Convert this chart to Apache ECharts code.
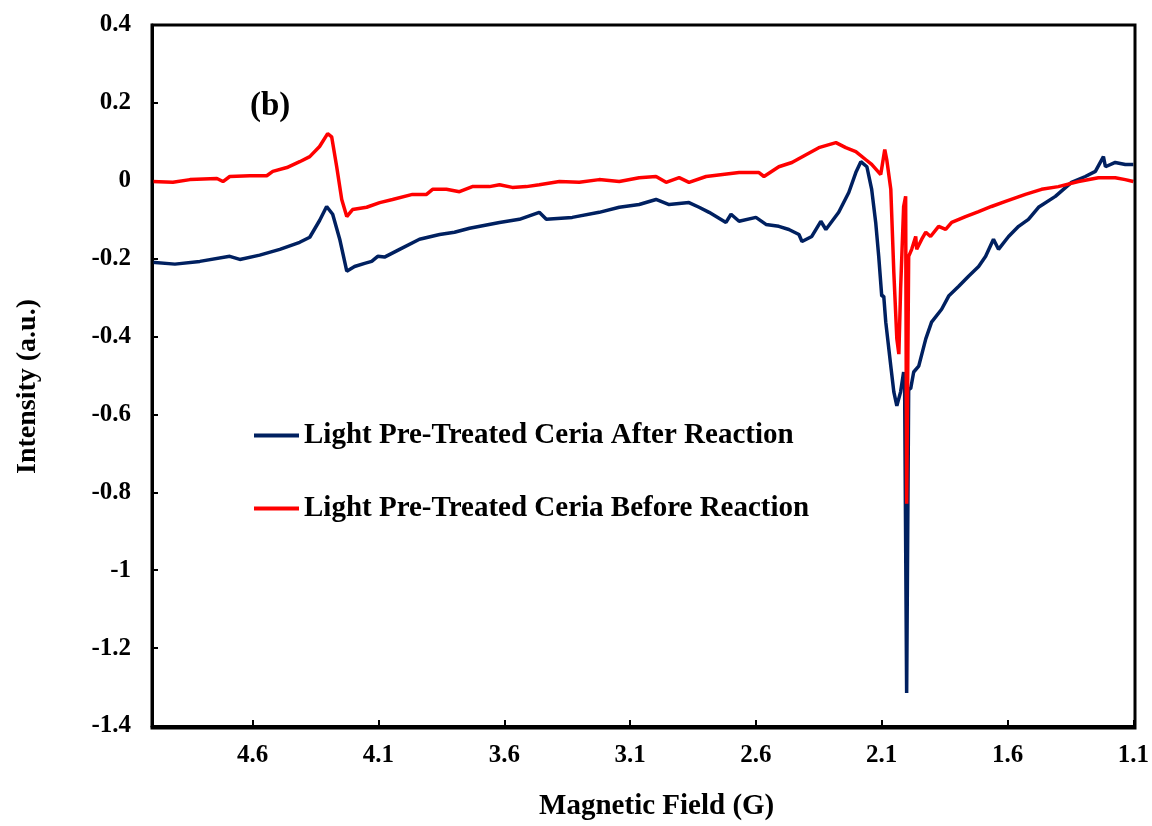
<!DOCTYPE html>
<html>
<head>
<meta charset="utf-8">
<script src="https://cdn.jsdelivr.net/npm/echarts@6/dist/echarts.min.js"></script>
<style>
html,body{margin:0;padding:0;background:#fff;}
#chart{width:1152px;height:826px;}
</style>
</head>
<body>
<div id="chart"></div>
<script>
// Series names
const seriesNames = ['Light Pre-Treated Ceria After Reaction', 'Light Pre-Treated Ceria Before Reaction'];

// After reaction (navy)
const gAfter = [5.000,4.909,4.810,4.691,4.651,4.572,4.492,4.413,4.373,4.334,4.306,4.282,4.254,4.226,4.195,4.155,4.127,4.103,4.076,4.016,3.937,3.857,3.798,3.738,3.619,3.540,3.461,3.433,3.330,3.223,3.143,3.064,2.997,2.945,2.866,2.826,2.786,2.719,2.699,2.667,2.600,2.560,2.509,2.469,2.429,2.417,2.378,2.342,2.322,2.271,2.231,2.203,2.183,2.159,2.140,2.124,2.112,2.100,2.092,2.084,2.064,2.052,2.040,2.025,2.013,2.009,2.001,1.993,1.985,1.973,1.953,1.925,1.902,1.862,1.834,1.794,1.755,1.715,1.687,1.656,1.636,1.596,1.556,1.517,1.477,1.410,1.346,1.291,1.251,1.219,1.211,1.172,1.132,1.100];
const intensityAfter = [-0.209,-0.214,-0.207,-0.194,-0.202,-0.191,-0.176,-0.158,-0.145,-0.102,-0.066,-0.086,-0.150,-0.232,-0.220,-0.212,-0.207,-0.194,-0.196,-0.176,-0.150,-0.138,-0.132,-0.122,-0.107,-0.099,-0.081,-0.099,-0.094,-0.081,-0.068,-0.061,-0.048,-0.061,-0.056,-0.068,-0.081,-0.107,-0.086,-0.104,-0.094,-0.112,-0.117,-0.125,-0.138,-0.156,-0.143,-0.104,-0.125,-0.081,-0.030,0.021,0.049,0.036,-0.022,-0.107,-0.194,-0.296,-0.296,-0.363,-0.476,-0.542,-0.578,-0.542,-0.491,-0.534,-1.315,-0.534,-0.534,-0.491,-0.476,-0.406,-0.363,-0.330,-0.296,-0.271,-0.245,-0.220,-0.194,-0.150,-0.176,-0.143,-0.117,-0.099,-0.068,-0.040,-0.004,0.011,0.024,0.062,0.036,0.047,0.042,0.042];

// Before reaction (red)
const gBefore = [5.000,4.917,4.849,4.742,4.718,4.691,4.611,4.544,4.520,4.464,4.413,4.373,4.334,4.302,4.286,4.266,4.246,4.226,4.203,4.147,4.095,4.044,3.965,3.909,3.885,3.830,3.778,3.727,3.659,3.619,3.568,3.512,3.461,3.381,3.302,3.223,3.143,3.064,2.997,2.957,2.905,2.866,2.798,2.667,2.588,2.568,2.509,2.457,2.401,2.350,2.282,2.243,2.203,2.163,2.140,2.104,2.088,2.080,2.064,2.052,2.040,2.032,2.025,2.013,2.005,2.001,1.993,1.981,1.965,1.961,1.941,1.925,1.906,1.874,1.846,1.822,1.767,1.715,1.664,1.608,1.529,1.465,1.398,1.318,1.239,1.172,1.132,1.100];
const intensityBefore = [-0.002,-0.004,0.003,0.006,-0.002,0.011,0.013,0.013,0.024,0.034,0.049,0.062,0.088,0.121,0.113,0.036,-0.048,-0.092,-0.074,-0.068,-0.056,-0.048,-0.035,-0.035,-0.022,-0.022,-0.028,-0.015,-0.015,-0.010,-0.017,-0.015,-0.010,-0.002,-0.004,0.003,-0.002,0.008,0.011,-0.004,0.008,-0.004,0.011,0.021,0.021,0.011,0.036,0.047,0.067,0.085,0.098,0.085,0.075,0.054,0.042,0.016,0.080,0.054,-0.022,-0.235,-0.406,-0.445,-0.278,-0.066,-0.040,-0.829,-0.194,-0.176,-0.143,-0.176,-0.150,-0.132,-0.143,-0.117,-0.125,-0.107,-0.092,-0.079,-0.066,-0.053,-0.035,-0.022,-0.015,-0.002,0.008,0.008,0.003,-0.002];

// Axis ticks
const xTickLabels = ['1.1','1.6','2.1','2.6','3.1','3.6','4.1','4.6'];
const yTickLabels = ['-1.4','-1.2','-1','-0.8','-0.6','-0.4','-0.2','0','0.2','0.4'];

const FONT = '"Liberation Serif", "Times New Roman", serif';
const pairs = (xs, ys) => xs.map((x, i) => [x, ys[i]]);

const chart = echarts.init(document.getElementById('chart'), null, {renderer: 'canvas'});
chart.setOption({
  backgroundColor: '#ffffff',
  animation: false,
  grid: {left: 152, right: 17, top: 25, bottom: 98, show: false},
  legend: {
    orient: 'vertical',
    left: 254,
    top: 421,
    padding: 0,
    itemGap: 44,
    itemWidth: 45,
    itemHeight: 4,
    icon: 'rect',
    textStyle: {fontFamily: FONT, fontWeight: 'bold', fontSize: 29, color: '#000'},
    data: seriesNames
  },
  xAxis: {
    type: 'value',
    inverse: true,
    min: 1.1,
    max: 5.0,
    interval: 0.5,
    name: 'Magnetic Field (G)',
    nameLocation: 'middle',
    nameGap: 66,
    nameTextStyle: {fontFamily: FONT, fontWeight: 'bold', fontSize: 29, color: '#000', padding: [0, 0, 0, 28]},
    axisLine: {show: true, onZero: false, lineStyle: {color: '#000', width: 3}},
    axisTick: {show: true, inside: true, length: 6, lineStyle: {color: '#000', width: 2}},
    axisLabel: {
      margin: 17,
      fontFamily: FONT, fontWeight: 'bold', fontSize: 25, color: '#000',
      formatter: function (v) {
        const s = (Math.round(v * 10) / 10).toFixed(1);
        return xTickLabels.indexOf(s) >= 0 ? s : '';
      }
    },
    splitLine: {show: false}
  },
  yAxis: {
    type: 'value',
    min: -1.4,
    max: 0.4,
    interval: 0.2,
    name: 'Intensity (a.u.)',
    nameLocation: 'middle',
    nameGap: 110,
    nameTextStyle: {fontFamily: FONT, fontWeight: 'bold', fontSize: 28, color: '#000', padding: [0, 22, 0, 0]},
    axisLine: {show: true, onZero: false, lineStyle: {color: '#000', width: 3}},
    axisTick: {show: true, inside: true, length: 6, lineStyle: {color: '#000', width: 2}},
    axisLabel: {
      margin: 21,
      fontFamily: FONT, fontWeight: 'bold', fontSize: 25, color: '#000',
      formatter: function (v) {
        const s = String(Math.round(v * 10) / 10);
        return yTickLabels.indexOf(s) >= 0 ? s : '';
      }
    },
    splitLine: {show: false}
  },
  graphic: [
    {type: 'rect', shape: {x: 152, y: 25, width: 983, height: 703}, style: {fill: 'none', stroke: '#000', lineWidth: 3}, z: 100, silent: true},
    {type: 'text', left: 250, top: 90, style: {text: '(b)', fontFamily: FONT, fontWeight: 'bold', fontSize: 33, fill: '#000'}, z: 100}
  ],
  series: [
    {
      name: seriesNames[0], type: 'line', showSymbol: false, symbol: 'none',
      data: pairs(gAfter, intensityAfter),
      lineStyle: {color: '#002060', width: 3.5}, itemStyle: {color: '#002060'}, z: 2
    },
    {
      name: seriesNames[1], type: 'line', showSymbol: false, symbol: 'none',
      data: pairs(gBefore, intensityBefore),
      lineStyle: {color: '#ff0000', width: 3.5}, itemStyle: {color: '#ff0000'}, z: 3
    }
  ]
});
</script>
</body>
</html>
